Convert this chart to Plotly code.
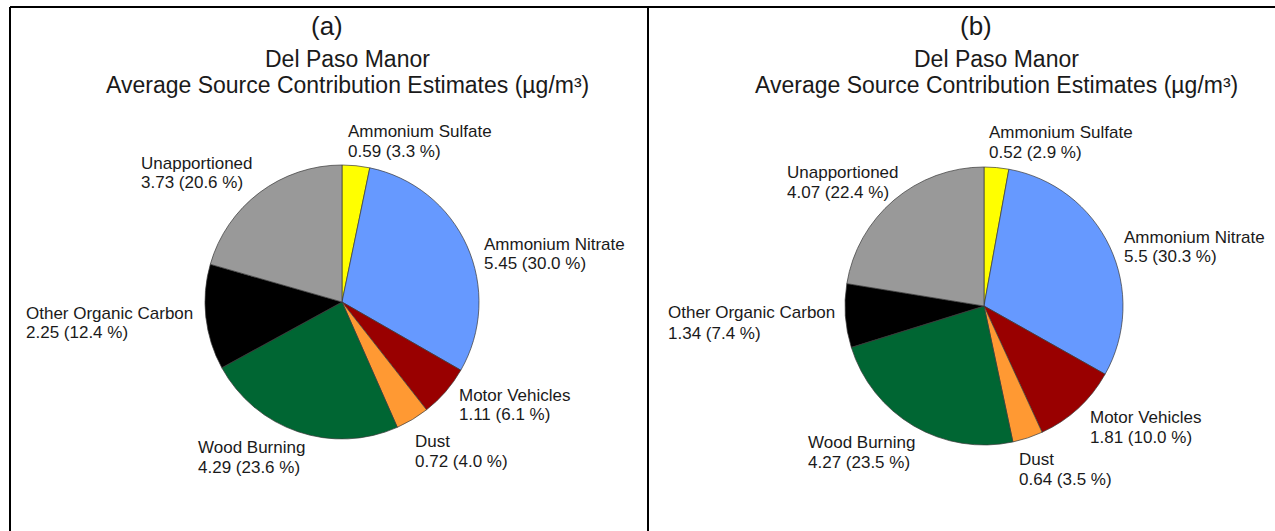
import plotly.graph_objects as go

# ---- data -------------------------------------------------------------
sources = ["Ammonium Sulfate", "Ammonium Nitrate", "Motor Vehicles", "Dust",
           "Wood Burning", "Other Organic Carbon", "Unapportioned"]
slice_colors = ["#FFFF00", "#6699FF", "#990000", "#FF9933",
                "#006633", "#000000", "#999999"]
values_a = [0.59, 5.45, 1.11, 0.72, 4.29, 2.25, 3.73]
values_b = [0.52, 5.5, 1.81, 0.64, 4.27, 1.34, 4.07]
panel_tags = ["(a)", "(b)"]
site_name = "Del Paso Manor"
subtitle = "Average Source Contribution Estimates (µg/m³)"

# ---- page geometry (pixels) ------------------------------------------
W, H = 1275, 531
FONT = "Liberation Sans, Arial, sans-serif"
TEXT = "#1a1a1a"

panels = [
    dict(values=values_a, cx=342, cy=302, r=137, tag_x=327, title_x=347,
         labels={  # left edge x, first line y, second line y
             "Ammonium Sulfate": (347, 131, 151),
             "Ammonium Nitrate": (483, 244, 263),
             "Motor Vehicles": (458, 395, 414),
             "Dust": (414, 441, 461),
             "Wood Burning": (197, 447, 467),
             "Other Organic Carbon": (25, 313, 332),
             "Unapportioned": (140, 163, 182),
         }),
    dict(values=values_b, cx=984, cy=306, r=139, tag_x=976, title_x=996,
         labels={
             "Ammonium Sulfate": (988, 132, 152),
             "Ammonium Nitrate": (1123, 237, 257),
             "Motor Vehicles": (1089, 417, 437),
             "Dust": (1018, 459, 479),
             "Wood Burning": (807, 442, 462),
             "Other Organic Carbon": (667, 312, 333),
             "Unapportioned": (786, 172, 192),
         }),
]


def px_x(x):
    return x / W


def px_y(y):
    return 1 - y / H


fig = go.Figure()
annotations = []

for i, p in enumerate(panels):
    vals = p["values"]
    total = sum(vals)
    fig.add_trace(go.Pie(
        labels=sources,
        values=vals,
        sort=False,
        direction="clockwise",
        rotation=0,
        marker=dict(colors=slice_colors, line=dict(color="#3a3a3a", width=0.7)),
        textinfo="none",
        hoverinfo="label+value+percent",
        showlegend=False,
        domain=dict(x=[px_x(p["cx"] - p["r"]), px_x(p["cx"] + p["r"])],
                    y=[px_y(p["cy"] + p["r"]), px_y(p["cy"] - p["r"])]),
    ))

    # panel letter and two-line heading
    annotations.append(dict(text=panel_tags[i], x=px_x(p["tag_x"]), y=px_y(26),
                            xanchor="center", yanchor="middle", showarrow=False,
                            font=dict(family=FONT, size=26, color=TEXT)))
    annotations.append(dict(text=site_name, x=px_x(p["title_x"]), y=px_y(59),
                            xanchor="center", yanchor="middle", showarrow=False,
                            font=dict(family=FONT, size=23, color=TEXT)))
    annotations.append(dict(text=subtitle, x=px_x(p["title_x"]), y=px_y(85),
                            xanchor="center", yanchor="middle", showarrow=False,
                            font=dict(family=FONT, size=23, color=TEXT)))

    # slice labels: name on the first line, value and share on the second
    for name, v in zip(sources, vals):
        lx, ly1, ly2 = p["labels"][name]
        share = round(v / total * 100, 1)
        for txt, ly in ((name, ly1), (f"{v:g} ({share:.1f} %)", ly2)):
            annotations.append(dict(text=txt, x=px_x(lx), y=px_y(ly),
                                    xanchor="left", yanchor="middle",
                                    showarrow=False, borderpad=0,
                                    font=dict(family=FONT, size=17, color=TEXT)))

# frame: top rule, left rule and divider between the panels
line = dict(color="#000000", width=2)
shapes = [
    dict(type="line", xref="paper", yref="paper", x0=px_x(10), x1=1,
         y0=px_y(7), y1=px_y(7), line=line),
    dict(type="line", xref="paper", yref="paper", x0=px_x(10), x1=px_x(10),
         y0=px_y(7), y1=0, line=line),
    dict(type="line", xref="paper", yref="paper", x0=px_x(648), x1=px_x(648),
         y0=px_y(7), y1=0, line=line),
]

fig.update_layout(
    width=W, height=H,
    margin=dict(l=0, r=0, t=0, b=0),
    paper_bgcolor="white", plot_bgcolor="white",
    annotations=annotations,
    shapes=shapes,
)

fig.write_html("out.html")
